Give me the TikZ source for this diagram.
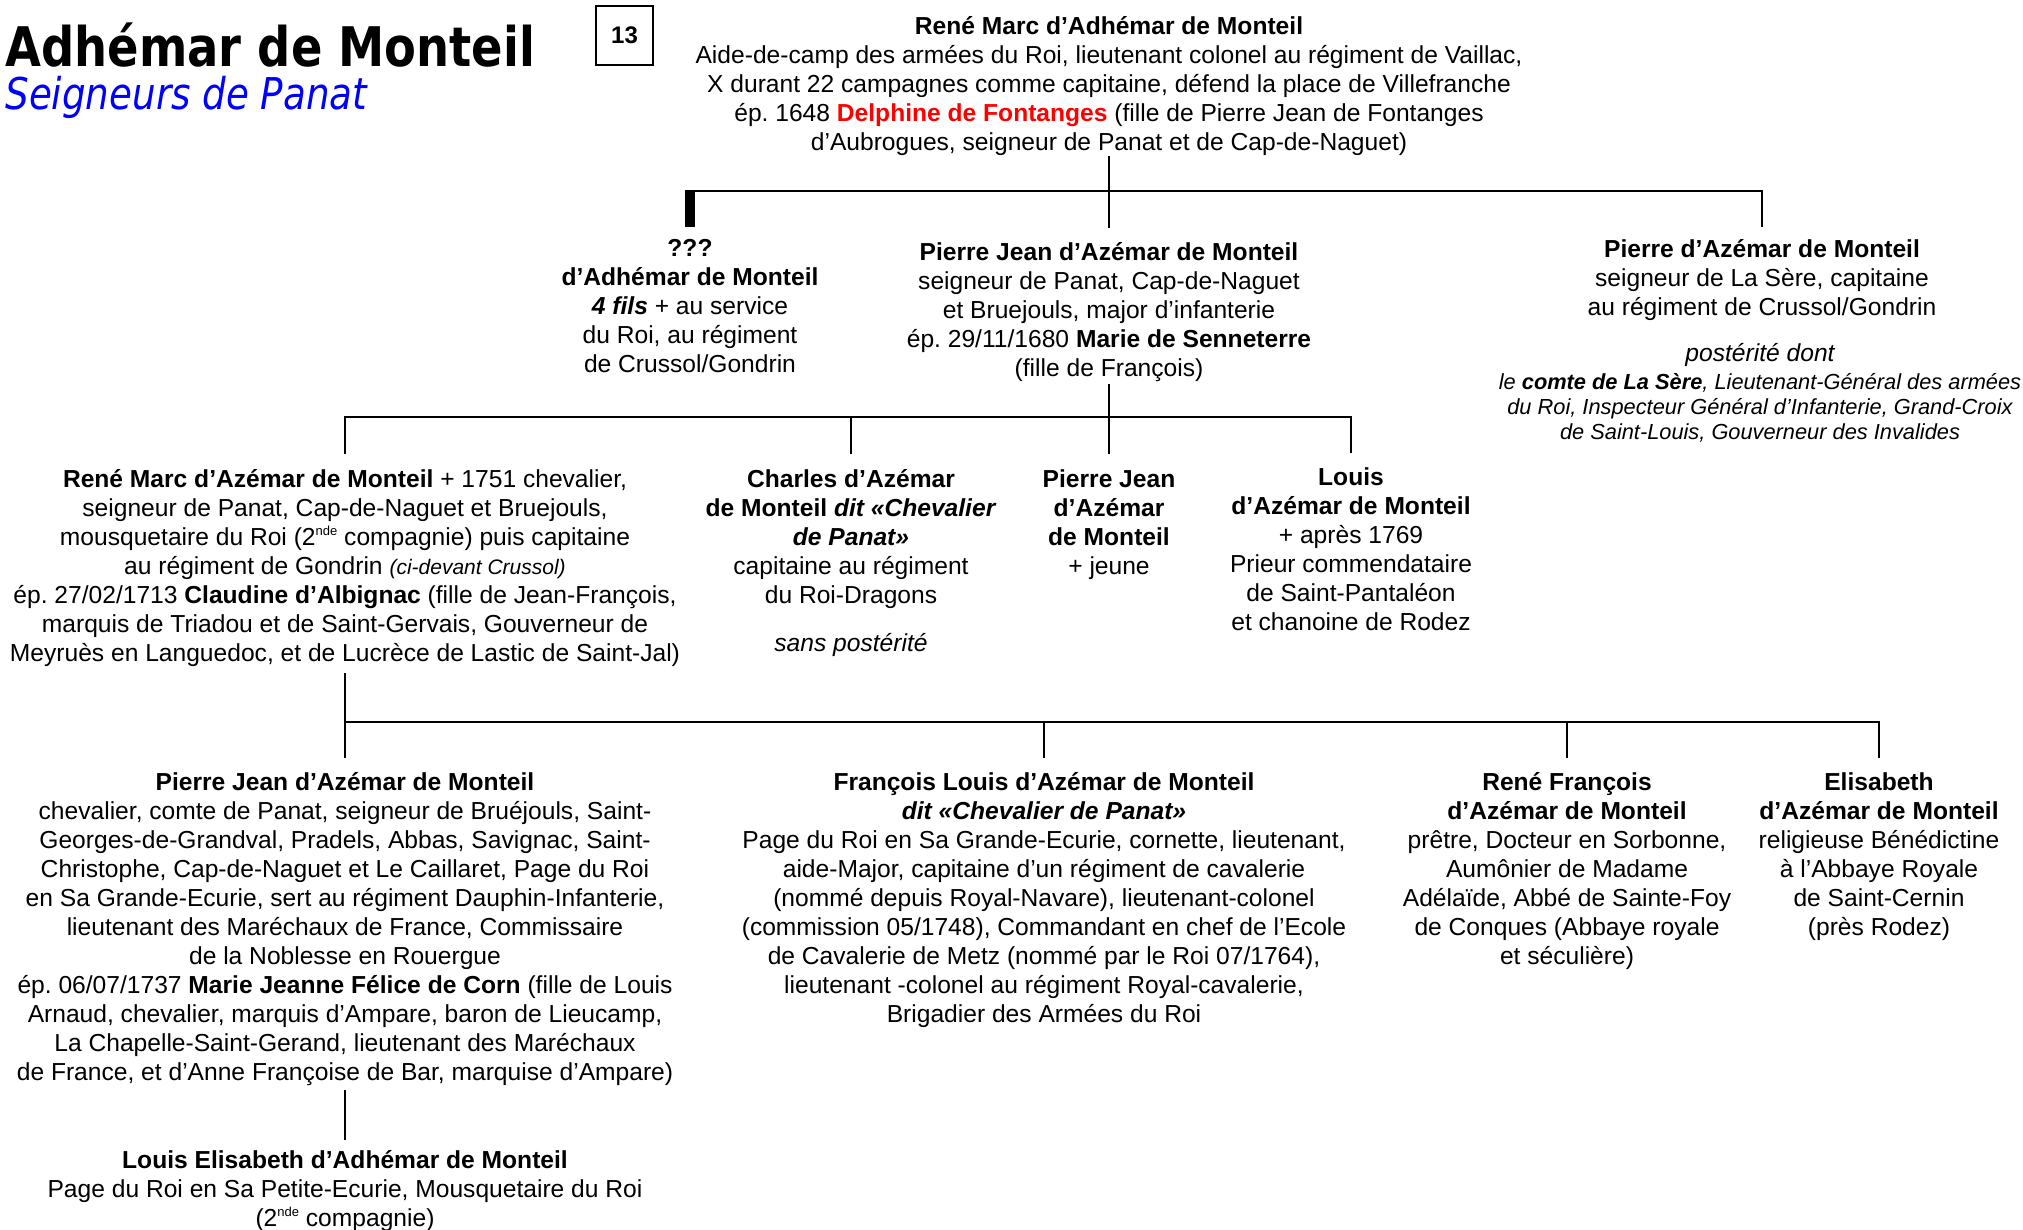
\documentclass[tikz,border=0pt]{standalone}
\usepackage{fontspec}
\setmainfont{Liberation Sans}
\newfontfamily\titlefont[FakeStretch=0.85]{DejaVu Sans}
\usetikzlibrary{calc}
\definecolor{tblue}{RGB}{0,0,255}
\definecolor{tred}{RGB}{255,0,0}
\newcommand\myexp[1]{\raisebox{0.42em}{\fontsize{6.5}{7}\selectfont #1}}
\frenchspacing
\begin{document}
\begin{tikzpicture}[x=0.5pt,y=-0.5pt,
  person/.style={align=center,inner sep=0pt,anchor=north,font=\fontsize{12.3}{14.5}\selectfont\frenchspacing},
  small/.style={align=center,inner sep=0pt,anchor=north,font=\fontsize{10.9}{12.6}\selectfont\itshape\frenchspacing},
  conn/.style={line width=1.2pt},
]
\fill[white] (0,0) rectangle (2023,1230);
\useasboundingbox (0,0) rectangle (2023,1230);

% title
\node[anchor=base west,inner sep=0pt,font=\titlefont\bfseries\fontsize{27.3}{30}\selectfont] (title) at (5,67) {Adhémar de Monteil};
\node[anchor=base west,inner sep=0pt,text=tblue,font=\titlefont\itshape\fontsize{21.9}{24}\selectfont] (sub) at (5,110) {Seigneurs de Panat};
\node[draw,line width=0.8pt,minimum width=28.5pt,minimum height=29.5pt,inner sep=0pt,font=\bfseries\fontsize{12}{14}\selectfont] (num) at (624.5,35.5) {13};

% generation 1
\node[person] (top) at (1109,14) {\strut\textbf{René Marc d’Adhémar de Monteil}\\
Aide-de-camp des armées du Roi, lieutenant colonel au régiment de Vaillac,\\
X durant 22 campagnes comme capitaine, défend la place de Villefranche\\
ép. 1648 \textcolor{tred}{\textbf{Delphine de Fontanges}} (fille de Pierre Jean de Fontanges\\
d’Aubrogues, seigneur de Panat et de Cap-de-Naguet)};

% generation 2
\node[person] (q) at (690,236) {\strut\textbf{???}\\
\textbf{d’Adhémar de Monteil}\\
\textbf{\textit{4 fils}} + au service\\
du Roi, au régiment\\
de Crussol/Gondrin};
\node[person] (pj1) at (1109,240) {\strut\textbf{Pierre Jean d’Azémar de Monteil}\\
seigneur de Panat, Cap-de-Naguet\\
et Bruejouls, major d’infanterie\\
ép. 29/11/1680 \textbf{Marie de Senneterre}\\
(fille de François)};
\node[person] (pa) at (1762,237) {\strut\textbf{Pierre d’Azémar de Monteil}\\
seigneur de La Sère, capitaine\\
au régiment de Crussol/Gondrin};
\node[person,font=\fontsize{12.3}{14.5}\selectfont\itshape] (post) at (1760,341) {\strut postérité dont};
\node[small] (postd) at (1760,371) {\strut le \textbf{comte de La Sère}, Lieutenant-Général des armées\\
du Roi, Inspecteur Général d’Infanterie, Grand-Croix\\
de Saint-Louis, Gouverneur des Invalides};

% generation 3
\node[person] (rm) at (345,467) {\strut\textbf{René Marc d’Azémar de Monteil} + 1751 chevalier,\\
seigneur de Panat, Cap-de-Naguet et Bruejouls,\\
mousquetaire du Roi (2\myexp{nde} compagnie) puis capitaine\\
au régiment de Gondrin {\fontsize{10.5}{14.5}\selectfont\itshape (ci-devant Crussol)}\\
ép. 27/02/1713 \textbf{Claudine d’Albignac} (fille de Jean-François,\\
marquis de Triadou et de Saint-Gervais, Gouverneur de\\
Meyruès en Languedoc, et de Lucrèce de Lastic de Saint-Jal)};
\node[person] (ch) at (851,467) {\strut\textbf{Charles d’Azémar}\\
\textbf{de Monteil \textit{dit «Chevalier}}\\
\textbf{\textit{de Panat»}}\\
capitaine au régiment\\
du Roi-Dragons};
\node[person,font=\fontsize{12.3}{14.5}\selectfont\itshape] (chs) at (851,631) {\strut sans postérité};
\node[person] (pj2) at (1109,467) {\strut\textbf{Pierre Jean}\\
\textbf{d’Azémar}\\
\textbf{de Monteil}\\
+ jeune};
\node[person] (lo) at (1351,465) {\strut\textbf{Louis}\\
\textbf{d’Azémar de Monteil}\\
+ après 1769\\
Prieur commendataire\\
de Saint-Pantaléon\\
et chanoine de Rodez};

% generation 4
\node[person] (pj3) at (345,770) {\strut\textbf{Pierre Jean d’Azémar de Monteil}\\
chevalier, comte de Panat, seigneur de Bruéjouls, Saint-\\
Georges-de-Grandval, Pradels, Abbas, Savignac, Saint-\\
Christophe, Cap-de-Naguet et Le Caillaret, Page du Roi\\
en Sa Grande-Ecurie, sert au régiment Dauphin-Infanterie,\\
lieutenant des Maréchaux de France, Commissaire\\
de la Noblesse en Rouergue\\
ép. 06/07/1737 \textbf{Marie Jeanne Félice de Corn} (fille de Louis\\
Arnaud, chevalier, marquis d’Ampare, baron de Lieucamp,\\
La Chapelle-Saint-Gerand, lieutenant des Maréchaux\\
de France, et d’Anne Françoise de Bar, marquise d’Ampare)};
\node[person] (fl) at (1044,770) {\strut\textbf{François Louis d’Azémar de Monteil}\\
\textbf{\textit{dit «Chevalier de Panat»}}\\
Page du Roi en Sa Grande-Ecurie, cornette, lieutenant,\\
aide-Major, capitaine d’un régiment de cavalerie\\
(nommé depuis Royal-Navare), lieutenant-colonel\\
(commission 05/1748), Commandant en chef de l’Ecole\\
de Cavalerie de Metz (nommé par le Roi 07/1764),\\
lieutenant -colonel au régiment Royal-cavalerie,\\
Brigadier des Armées du Roi};
\node[person] (rf) at (1567,770) {\strut\textbf{René François}\\
\textbf{d’Azémar de Monteil}\\
prêtre, Docteur en Sorbonne,\\
Aumônier de Madame\\
Adélaïde, Abbé de Sainte-Foy\\
de Conques (Abbaye royale\\
et séculière)};
\node[person] (el) at (1879,770) {\strut\textbf{Elisabeth}\\
\textbf{d’Azémar de Monteil}\\
religieuse Bénédictine\\
à l’Abbaye Royale\\
de Saint-Cernin\\
(près Rodez)};

% generation 5
\node[person] (le) at (345,1148) {\strut\textbf{Louis Elisabeth d’Adhémar de Monteil}\\
Page du Roi en Sa Petite-Ecurie, Mousquetaire du Roi\\
(2\myexp{nde} compagnie)};

% connectors
\coordinate (b1) at (0,191);
\coordinate (b2) at (0,417);
\coordinate (b3) at (0,722);

\draw[conn] (top.south) -- (top.south |- b1);
\draw[conn] ($(q.north |- b1)+(-5,0)$) -- (pa.north |- b1) -- ($(pa.north)+(0,-10)$);
\fill ($(q.north |- b1)+(-5,-1)$) rectangle ($(q.north)+(5,-9)$);
\draw[conn] (pj1.north |- b1) -- ($(pj1.north)+(0,-12)$);

\draw[conn] ($(pj1.south)+(0,2)$) -- ($(pj2.north)+(0,-13)$);
\draw[conn] ($(rm.north)+(0,-13)$) -- (rm.north |- b2) -- (lo.north |- b2) -- ($(lo.north)+(0,-12)$);
\draw[conn] (ch.north |- b2) -- ($(ch.north)+(0,-13)$);

\draw[conn] ($(rm.south)+(0,6)$) -- ($(pj3.north)+(0,-12)$);
\draw[conn] (pj3.north |- b3) -- (el.north |- b3) -- ($(el.north)+(0,-12)$);
\draw[conn] (fl.north |- b3) -- ($(fl.north)+(0,-12)$);
\draw[conn] (rf.north |- b3) -- ($(rf.north)+(0,-12)$);

\draw[conn] ($(pj3.south)+(0,4)$) -- ($(le.north)+(0,-8)$);
\end{tikzpicture}
\end{document}
